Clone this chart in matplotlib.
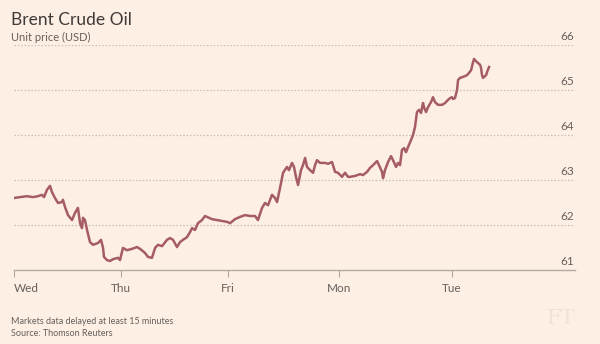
import matplotlib
matplotlib.use('Agg')
import matplotlib.pyplot as plt
import matplotlib.transforms as mtransforms

# 交易日坐标 (Wed=0) 和价格
days = [0.0, 0.055, 0.119, 0.174, 0.219, 0.256, 0.274, 0.301, 0.329, 0.347,
        0.374, 0.402, 0.438, 0.447, 0.466, 0.493, 0.530, 0.557, 0.584, 0.603,
        0.621, 0.630, 0.648, 0.667, 0.694, 0.721, 0.767, 0.795, 0.813, 0.822,
        0.849, 0.877, 0.904, 0.950, 0.968, 0.995, 1.032, 1.078, 1.123, 1.151,
        1.196, 1.224, 1.260, 1.288, 1.315, 1.352, 1.397, 1.425, 1.452, 1.489,
        1.516, 1.543, 1.580, 1.607, 1.626, 1.653, 1.680, 1.717, 1.744, 1.763,
        1.808, 1.854, 1.900, 1.945, 1.973, 2.018, 2.064, 2.110, 2.155, 2.201,
        2.228, 2.265, 2.292, 2.320, 2.356, 2.384, 2.402, 2.429, 2.457, 2.493,
        2.511, 2.539, 2.557, 2.575, 2.594, 2.621, 2.639, 2.658, 2.676, 2.703,
        2.731, 2.749, 2.767, 2.795, 2.840, 2.868, 2.904, 2.932, 2.959, 2.995,
        3.023, 3.050, 3.068, 3.114, 3.160, 3.187, 3.224, 3.251, 3.279, 3.315,
        3.333, 3.361, 3.370, 3.388, 3.416, 3.443, 3.461, 3.489, 3.507, 3.525,
        3.543, 3.562, 3.580, 3.598, 3.626, 3.644, 3.662, 3.680, 3.699, 3.717,
        3.735, 3.744, 3.763, 3.781, 3.808, 3.826, 3.845, 3.872, 3.909, 3.936,
        3.963, 3.982, 4.000, 4.009, 4.027, 4.046, 4.055, 4.073, 4.100, 4.137,
        4.155, 4.174, 4.192, 4.201, 4.219, 4.237, 4.256, 4.265, 4.274, 4.283,
        4.292, 4.311, 4.320, 4.338]
prices = [62.60, 62.62, 62.64, 62.62, 62.64, 62.67, 62.62, 62.78, 62.87, 62.73,
          62.60, 62.49, 62.51, 62.56, 62.40, 62.22, 62.11, 62.27, 62.38, 62.04,
          61.93, 62.16, 62.11, 61.89, 61.62, 61.56, 61.60, 61.67, 61.49, 61.29,
          61.22, 61.20, 61.24, 61.27, 61.22, 61.49, 61.44, 61.47, 61.51, 61.47,
          61.38, 61.29, 61.27, 61.49, 61.56, 61.53, 61.67, 61.71, 61.67, 61.51,
          61.62, 61.67, 61.73, 61.84, 61.93, 61.89, 62.04, 62.11, 62.20, 62.18,
          62.13, 62.11, 62.09, 62.07, 62.04, 62.13, 62.18, 62.22, 62.20, 62.20,
          62.11, 62.38, 62.49, 62.44, 62.67, 62.60, 62.51, 62.82, 63.16, 63.29,
          63.22, 63.38, 63.29, 63.07, 62.89, 63.22, 63.33, 63.49, 63.29, 63.22,
          63.16, 63.33, 63.44, 63.38, 63.38, 63.36, 63.40, 63.18, 63.16, 63.07,
          63.16, 63.07, 63.07, 63.09, 63.13, 63.11, 63.18, 63.27, 63.33, 63.42,
          63.33, 63.18, 63.04, 63.22, 63.40, 63.53, 63.44, 63.29, 63.38, 63.33,
          63.67, 63.71, 63.62, 63.73, 63.89, 64.00, 64.18, 64.51, 64.56, 64.49,
          64.71, 64.62, 64.51, 64.62, 64.73, 64.84, 64.73, 64.67, 64.67, 64.71,
          64.78, 64.82, 64.84, 64.80, 64.82, 65.00, 65.22, 65.27, 65.29, 65.33,
          65.38, 65.44, 65.62, 65.69, 65.64, 65.60, 65.56, 65.49, 65.33, 65.27,
          65.29, 65.33, 65.40, 65.51]

tick_pos = [0.0, 0.977, 1.954, 2.968, 4.0]
tick_labels = ['Wed', 'Thu', 'Fri', 'Mon', 'Tue']
y_levels = [61, 62, 63, 64, 65, 66]

bg = '#fdefe4'
txt = '#66605c'
line_col = '#a65c63'

fig = plt.figure(figsize=(6, 3.44), dpi=100, facecolor=bg)
ax = fig.add_axes([14/600, 1 - 270/344, 561/600, 225/344])
ax.set_facecolor(bg)

ax.set_xlim(0, 5.123)
ax.set_ylim(61, 66)

# 网格线
for lv in y_levels[1:]:
    ax.axhline(lv, color='#c9bdb4', lw=0.9, ls=(0, (1.2, 1.5)), zorder=1)

ax.plot(days, prices, color=line_col, lw=1.8, zorder=3, solid_joinstyle='round')

for s in ['top', 'right', 'left']:
    ax.spines[s].set_visible(False)
ax.spines['bottom'].set_color('#b3a9a1')
ax.spines['bottom'].set_linewidth(1.0)

ax.set_yticks([])
ax.set_xticks(tick_pos)
ax.set_xticklabels(tick_labels)
ax.tick_params(axis='x', length=5, width=0.8, color='#b3a9a1', pad=4,
               labelsize=8.5, labelcolor=txt)
ax.get_xticklabels()[0].set_horizontalalignment('left')

# 右侧 y 轴标签
trans = mtransforms.blended_transform_factory(ax.transAxes, ax.transData)
for lv in y_levels:
    ax.text(0.998, lv + 0.06, str(lv), transform=trans, ha='right', va='bottom',
            fontsize=8.5, color=txt, family='Lato')

fig.text(11/600, 1 - 20/344, 'Brent Crude Oil', fontsize=12.5, color='#3f3a37',
         family='Lato', va='center')
fig.text(11/600, 1 - 37/344, 'Unit price (USD)', fontsize=8, color=txt,
         family='Lato', va='center')
fig.text(11/600, 1 - 322/344, 'Markets data delayed at least 15 minutes',
         fontsize=6.5, color=txt, va='center', family='Lato')
fig.text(11/600, 1 - 333/344, 'Source: Thomson Reuters',
         fontsize=6.5, color=txt, va='center', family='Lato')
fig.text(575/600, 1 - 319/344, 'FT', fontsize=15, color='#efe2d8', ha='right',
         va='center', family='DejaVu Serif')

for lbl in ax.get_xticklabels():
    lbl.set_family('Lato')

fig.savefig('out.png', dpi=100, facecolor=bg)
